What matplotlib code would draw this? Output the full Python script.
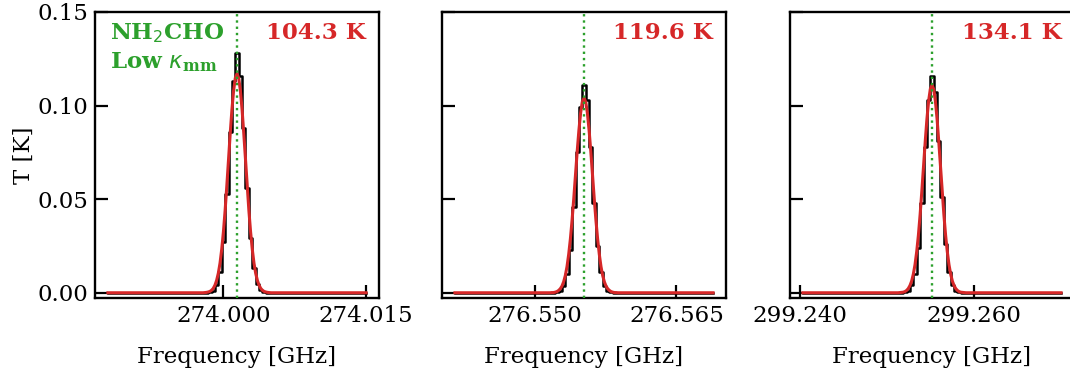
import numpy as np
import matplotlib
matplotlib.use("Agg")
import matplotlib.pyplot as plt

plt.rcParams['font.family'] = 'serif'
plt.rcParams['font.serif'] = ['DejaVu Serif']
plt.rcParams['mathtext.fontset'] = 'custom'
plt.rcParams['mathtext.rm'] = 'DejaVu Sans'
plt.rcParams['mathtext.it'] = 'DejaVu Sans:italic'
plt.rcParams['mathtext.bf'] = 'DejaVu Serif:bold'

# line centres (GHz), channel widths (GHz) and temperatures of each panel
centers = [274.00143, 276.55520, 299.25515]
chan_width = [0.000357, 0.000360, 0.000389]
temps = ['104.3 K', '119.6 K', '134.1 K']
xticks = [[274.000, 274.015], [276.550, 276.565], [299.240, 299.260]]
xticklabels = [['274.000', '274.015'], ['276.550', '276.565'], ['299.240', '299.260']]

# observed spectrum, channels -9..9 around the line centre (K)
obs_core = [
    [0.0000, 0.0003, 0.0011, 0.004, 0.011, 0.027, 0.053, 0.086, 0.113, 0.128,
     0.116, 0.088, 0.056, 0.029, 0.013, 0.0045, 0.0013, 0.0003, 0.0000],
    [0.0000, 0.0003, 0.0010, 0.0035, 0.010, 0.023, 0.046, 0.075, 0.099, 0.111,
     0.103, 0.078, 0.048, 0.025, 0.011, 0.0038, 0.0011, 0.0003, 0.0000],
    [0.0000, 0.0003, 0.0011, 0.004, 0.010, 0.024, 0.048, 0.078, 0.103, 0.116,
     0.107, 0.081, 0.051, 0.026, 0.011, 0.0040, 0.0011, 0.0003, 0.0000],
]
# model spectrum from the centre outwards, half-channel steps 0..10 (symmetric, K)
mod_half = [
    [0.1170, 0.1147, 0.1080, 0.0977, 0.0850, 0.0710, 0.0570, 0.0439, 0.0325, 0.0232, 0.0158,
     0.0104, 0.0066, 0.0040, 0.0023, 0.0013, 0.0007, 0.0004, 0.0002, 0.0001, 0.0000],
    [0.1040, 0.1020, 0.0960, 0.0868, 0.0756, 0.0631, 0.0506, 0.0390, 0.0289, 0.0206, 0.0140,
     0.0092, 0.0058, 0.0035, 0.0021, 0.0012, 0.0006, 0.0003, 0.0001, 0.0001, 0.0000],
    [0.1110, 0.1088, 0.1024, 0.0927, 0.0806, 0.0674, 0.0541, 0.0417, 0.0308, 0.0220, 0.0150,
     0.0099, 0.0062, 0.0038, 0.0022, 0.0012, 0.0006, 0.0003, 0.0002, 0.0001, 0.0000],
]

GREEN = '#2ca02c'
RED = '#d62728'

fig = plt.figure(figsize=(10.70, 3.76), dpi=100)
lefts = [95 / 1070, 442 / 1070, 790 / 1070]
W = 284 / 1070
B = 1 - 298 / 376
H = 286 / 376

for i in range(3):
    ax = fig.add_axes([lefts[i], B, W, H])
    # 77 channels covering about +-15 km/s
    freq = centers[i] + chan_width[i] * np.arange(-38, 39)
    obs = np.array([0.0] * 29 + obs_core[i] + [0.0] * 29)
    freq_fine = centers[i] + chan_width[i] / 2 * np.arange(-76, 77)
    core = mod_half[i][:0:-1] + mod_half[i]
    mod = np.array([0.0] * 56 + core + [0.0] * 56)

    ax.step(freq, obs, where='mid', color='black', lw=1.8, zorder=2)
    ax.plot(freq_fine, mod, color=RED, lw=2.2, zorder=3)
    ax.axvline(centers[i], color=GREEN, ls=':', lw=1.7, zorder=4)

    ax.set_ylim(-0.0028, 0.15)
    ax.set_yticks([0.0, 0.05, 0.10, 0.15])
    ax.set_xticks(xticks[i])
    ax.set_xticklabels(xticklabels[i])
    ax.tick_params(direction='in', length=9.5, width=1.6, labelsize=16.5, pad=5)
    for s in ax.spines.values():
        s.set_linewidth(1.7)
    ax.set_xlabel('Frequency [GHz]', fontsize=16.5, labelpad=14)
    if i == 0:
        ax.set_ylabel('T [K]', fontsize=16.5, labelpad=2)
        ax.text(0.053, 0.927, r'NH$_2$CHO', transform=ax.transAxes, color=GREEN,
                fontsize=16.5, fontweight='bold', ha='left', va='center')
        ax.text(0.053, 0.825, r'Low $\kappa_{\mathbf{mm}}$', transform=ax.transAxes, color=GREEN,
                fontsize=16.5, fontweight='bold', ha='left', va='center')
    else:
        ax.set_yticklabels([])
    ax.text(0.955, 0.927, temps[i], transform=ax.transAxes, color=RED,
            fontsize=16.5, fontweight='bold', ha='right', va='center')

fig.savefig('out.png', dpi=100)
